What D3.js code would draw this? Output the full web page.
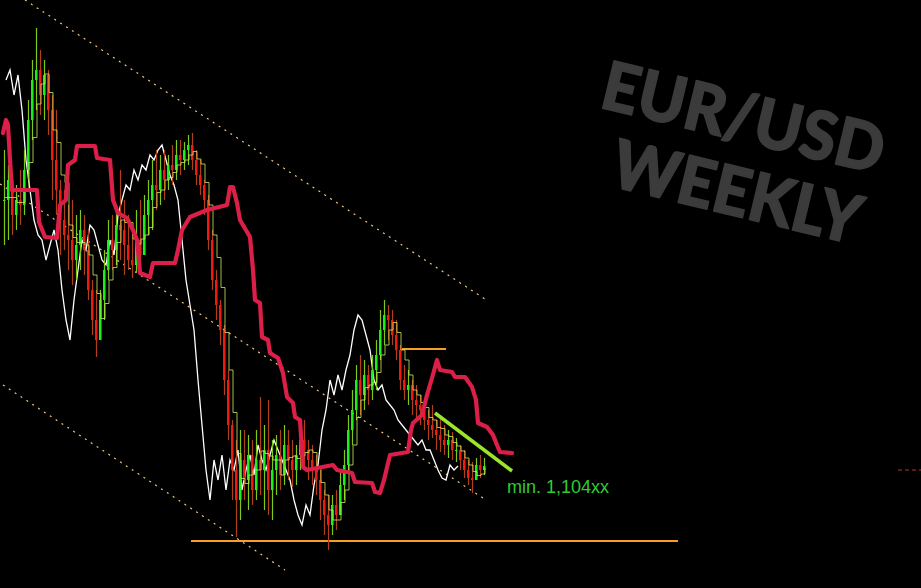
<!DOCTYPE html>
<html>
<head>
<meta charset="utf-8">
<script src="https://cdn.jsdelivr.net/npm/d3@7"></script>
<style>
  html, body { margin: 0; padding: 0; background: #000; }
  svg { display: block; }
</style>
</head>
<body>
<svg id="chart" width="921" height="588"></svg>
<script>
// ---- DATA (EUR/USD weekly, 4-week bars; time in weeks, price) ----
const barStepWeeks = 4;
const closes = [1.391,1.411,1.376,1.391,1.386,1.421,1.471,1.511,1.521,1.496,1.516,1.481,1.431,1.401,1.371,1.356,1.351,1.331,1.346,1.361,
1.341,1.301,1.271,1.251,1.291,1.321,1.351,1.341,1.366,1.361,1.346,1.331,1.326,1.351,1.336,1.376,1.391,1.406,1.401,1.421,
1.411,1.426,1.421,1.436,1.431,1.441,1.446,1.431,1.416,1.406,1.391,1.351,1.311,1.286,1.261,1.211,1.166,1.121,1.091,1.131,
1.111,1.136,1.101,1.131,1.121,1.141,1.101,1.121,1.136,1.116,1.146,1.131,1.121,1.136,1.151,1.141,1.131,1.121,1.111,1.091,
1.076,1.066,1.086,1.076,1.106,1.126,1.161,1.181,1.211,1.196,1.216,1.201,1.221,1.236,1.261,1.276,1.271,1.256,1.241,1.211,
1.201,1.206,1.191,1.186,1.181,1.171,1.166,1.161,1.156,1.151,1.146,1.151,1.141,1.141,1.131,1.121,1.113,1.111,1.126,1.121,1.125];
const highs = [1.441,1.426,1.416,1.406,1.421,1.441,1.491,1.531,1.563,1.541,1.531,1.521,1.496,1.481,1.411,1.401,1.386,1.391,1.376,1.381,
1.376,1.361,1.311,1.301,1.301,1.341,1.371,1.376,1.386,1.421,1.391,1.376,1.366,1.381,1.391,1.396,1.411,1.431,1.441,1.436,
1.441,1.436,1.446,1.451,1.451,1.449,1.456,1.458,1.441,1.431,1.411,1.396,1.361,1.321,1.291,1.266,1.221,1.171,1.151,1.161,
1.161,1.156,1.151,1.161,1.194,1.166,1.191,1.151,1.156,1.161,1.166,1.161,1.151,1.146,1.166,1.171,1.151,1.146,1.136,1.121,
1.101,1.096,1.096,1.101,1.121,1.141,1.176,1.201,1.226,1.236,1.231,1.226,1.236,1.251,1.281,1.291,1.286,1.281,1.271,1.246,
1.226,1.221,1.211,1.206,1.196,1.191,1.181,1.186,1.171,1.176,1.166,1.161,1.159,1.153,1.146,1.141,1.131,1.129,1.133,1.136,1.133];
const lows = [1.346,1.351,1.356,1.361,1.366,1.376,1.411,1.451,1.481,1.476,1.471,1.456,1.391,1.376,1.336,1.341,1.321,1.306,1.311,1.321,
1.316,1.291,1.256,1.234,1.251,1.271,1.311,1.321,1.326,1.331,1.316,1.321,1.313,1.319,1.316,1.341,1.356,1.361,1.381,1.386,
1.391,1.401,1.406,1.411,1.416,1.421,1.426,1.421,1.406,1.396,1.376,1.341,1.301,1.271,1.246,1.196,1.151,1.091,1.054,1.071,
1.091,1.081,1.086,1.091,1.096,1.081,1.076,1.071,1.096,1.101,1.106,1.111,1.104,1.106,1.121,1.126,1.111,1.106,1.096,1.071,
1.056,1.041,1.056,1.061,1.076,1.091,1.121,1.146,1.171,1.176,1.181,1.186,1.191,1.201,1.231,1.246,1.251,1.246,1.231,1.201,
1.191,1.186,1.176,1.171,1.166,1.161,1.151,1.153,1.141,1.139,1.136,1.133,1.131,1.129,1.121,1.113,1.106,1.098,1.111,1.113,1.116];

// Lagging span shift (weeks)
const laggingShift = 26;

// Stepped cloud line: [week, price]
const cloudLine = [[-1,1.458],[2,1.471],[4,1.466],[6,1.431],[8,1.401],[33,1.401],[35,1.369],[41,1.354],[53,1.353],[56,1.386],
[62,1.391],[64,1.426],[71,1.431],[73,1.445],[91,1.445],[93,1.433],[106,1.431],[109,1.391],[114,1.378],[123,1.373],
[129,1.361],[133,1.351],[136,1.318],[146,1.314],[149,1.328],[171,1.328],[174,1.341],[178,1.361],[186,1.374],[203,1.381],
[223,1.386],[226,1.404],[229,1.404],[233,1.388],[236,1.371],[246,1.354],[249,1.321],[251,1.291],[256,1.288],[258,1.254],
[264,1.251],[266,1.238],[274,1.233],[279,1.218],[283,1.194],[289,1.188],[291,1.174],[296,1.171],[299,1.124],[303,1.121],
[329,1.126],[333,1.121],[348,1.118],[351,1.109],[368,1.108],[371,1.099],[376,1.098],[380,1.111],[386,1.136],[404,1.139],
[407,1.161],[409,1.168],[418,1.176],[423,1.196],[428,1.213],[433,1.231],[436,1.221],[448,1.219],[451,1.214],[461,1.214],
[468,1.204],[472,1.191],[474,1.168],[483,1.164],[489,1.156],[493,1.146],[496,1.139],[508,1.138]];

// Channel lines: [[week, price], [week, price]]
const channelUpper = [[21,1.591],[481,1.292]];
const channelMiddle = [[-4,1.407],[479,1.093]];
const channelLower = [[-1,1.206],[281,1.021]];

// Horizontal levels
const supportLevel = {price: 1.050, from: 187, to: 674};
const resistLevel = {price: 1.242, from: 398, to: 442};
const trendLine = [[431,1.178],[508,1.120]];
const rightMarker = {price: 1.121, from: 894, to: 920};
const minLabel = {text: "min. 1,104xx", week: 503, price: 1.098};
const titleLines = ["EUR/USD", "WEEKLY"];

// ---- SCALES ----
const svg = d3.select("#chart");
const W = 921, H = 588;
svg.append("rect").attr("width", W).attr("height", H).attr("fill", "#000");

const x = d3.scaleLinear().domain([0, 480]).range([4, 484]);
const y = d3.scaleLinear().domain([1.591, 1.003]).range([0, 588]);

const bars = closes.map((c, i) => {
  const o = i === 0 ? c : closes[i - 1];
  return {week: i * barStepWeeks, open: o, close: c,
          high: Math.max(highs[i], o, c), low: Math.min(lows[i], o, c)};
});

// ---- TITLE ----
const tg = svg.append("g").attr("transform", "translate(598,107) rotate(13.5)");
tg.append("text").attr("x", 0).attr("y", 0)
  .attr("font-family", "Lato, 'Open Sans', sans-serif").attr("font-weight", 900)
  .attr("font-size", 67).attr("fill", "#3b3b3b")
  .attr("stroke", "#3b3b3b").attr("stroke-width", 1.6).attr("stroke-linejoin", "round")
  .attr("textLength", 288).attr("lengthAdjust", "spacingAndGlyphs")
  .text(titleLines[0]);
tg.append("text").attr("x", 28).attr("y", 74)
  .attr("font-family", "Lato, 'Open Sans', sans-serif").attr("font-weight", 900)
  .attr("font-size", 67).attr("fill", "#3b3b3b")
  .attr("stroke", "#3b3b3b").attr("stroke-width", 1.6).attr("stroke-linejoin", "round")
  .attr("textLength", 254).attr("lengthAdjust", "spacingAndGlyphs")
  .text(titleLines[1]);

// ---- CHANNEL ----
const line = d3.line().x(d => x(d[0])).y(d => y(d[1]));
[channelUpper, channelMiddle, channelLower].forEach(c => {
  svg.append("path").attr("d", line(c)).attr("fill", "none")
    .attr("stroke", "#f2c878").attr("stroke-width", 1.2)
    .attr("stroke-dasharray", "2,5");
});

// ---- LEVELS ----
[supportLevel, resistLevel].forEach(l => {
  svg.append("line")
    .attr("x1", x(l.from)).attr("x2", x(l.to))
    .attr("y1", y(l.price)).attr("y2", y(l.price))
    .attr("stroke", "#f5a021").attr("stroke-width", 2);
});
svg.append("line")
  .attr("x1", x(rightMarker.from)).attr("x2", x(rightMarker.to))
  .attr("y1", y(rightMarker.price)).attr("y2", y(rightMarker.price))
  .attr("stroke", "#a83a2a").attr("stroke-width", 1).attr("stroke-dasharray", "4,3");

// ---- LAGGING (white) ----
svg.append("path")
  .attr("d", d3.line().x(d => x(d.week - laggingShift)).y(d => y(d.close))(bars.slice(7)))
  .attr("fill", "none").attr("stroke", "#ffffff").attr("stroke-width", 1.3);

// ---- CANDLES ----
const cg = svg.append("g");
cg.selectAll("line.wick").data(bars).join("line").attr("class", "wick")
  .attr("x1", d => x(d.week) + 0.5).attr("x2", d => x(d.week) + 0.5)
  .attr("y1", d => y(d.high)).attr("y2", d => y(d.low))
  .attr("stroke", d => d.close >= d.open ? "#7fc81a" : "#b0401a").attr("stroke-width", 1.2);
cg.selectAll("rect.body").data(bars).join("rect").attr("class", "body")
  .attr("x", d => x(d.week) - 1)
  .attr("width", 2.5)
  .attr("y", d => y(Math.max(d.open, d.close)))
  .attr("height", d => Math.max(1, Math.abs(y(d.open) - y(d.close))))
  .attr("fill", d => d.close >= d.open ? "#19f019" : "#f01a10");

// conversion line (rolling midpoint of 3 bars)
const conv = bars.map((d, i) => {
  const s = bars.slice(Math.max(0, i - 2), i + 1);
  return {week: d.week, v: (d3.max(s, b => b.high) + d3.min(s, b => b.low)) / 2};
});
svg.append("path")
  .attr("d", d3.line().x(d => x(d.week) + 1).y(d => y(d.v)).curve(d3.curveStepAfter)(conv))
  .attr("fill", "none").attr("stroke", "#c8e85a").attr("stroke-width", 1).attr("opacity", 0.8);

// ---- CLOUD LINE (red) ----
svg.append("path").attr("d", line(cloudLine)).attr("fill", "none")
  .attr("stroke", "#dc1f48").attr("stroke-width", 4.2)
  .attr("stroke-linejoin", "round").attr("stroke-linecap", "round");

// ---- TREND LINE ----
svg.append("path").attr("d", line(trendLine))
  .attr("stroke", "#9be52c").attr("stroke-width", 3.5).attr("fill", "none");

// ---- LABEL ----
svg.append("text").attr("x", x(minLabel.week)).attr("y", y(minLabel.price))
  .attr("font-family", "'Liberation Sans', Arial, sans-serif").attr("font-size", 18)
  .attr("fill", "#2fcb2f").text(minLabel.text);
</script>
</body>
</html>
